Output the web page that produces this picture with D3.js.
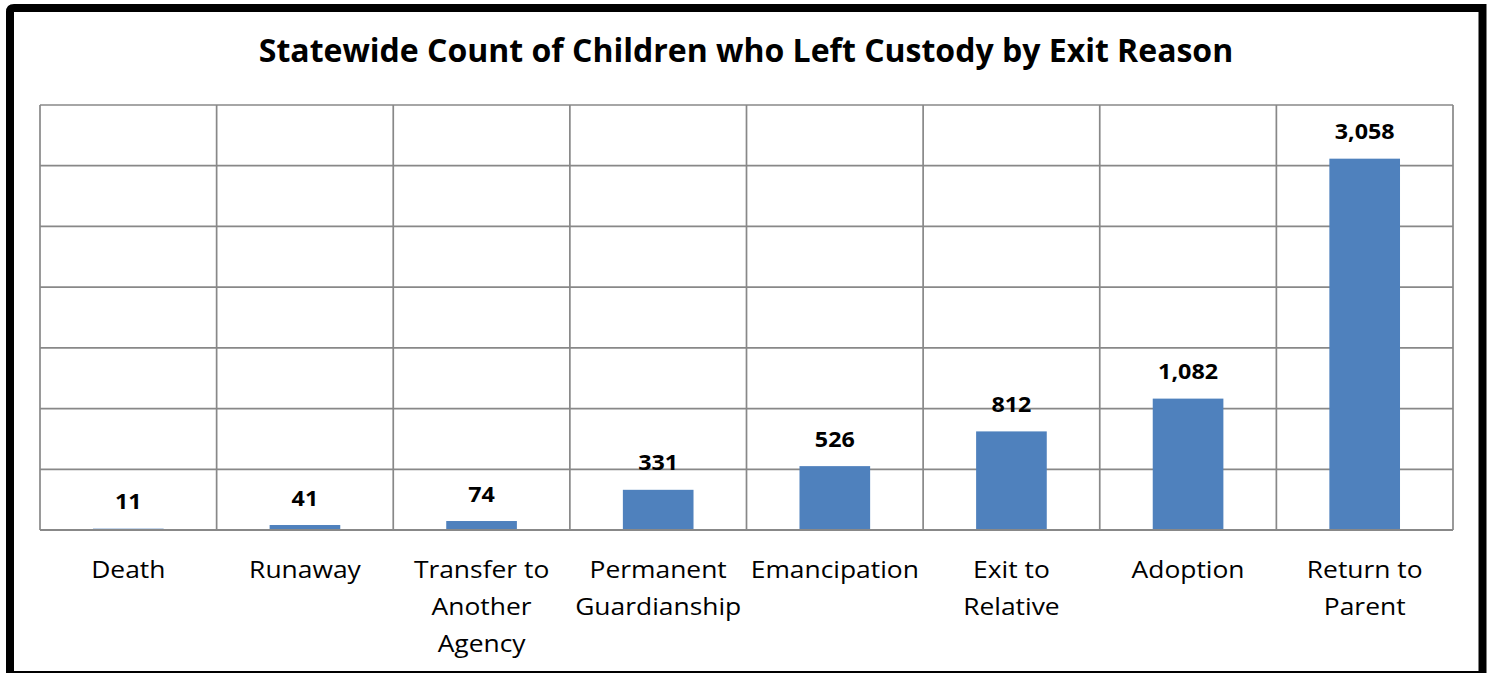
<!DOCTYPE html>
<html><head><meta charset="utf-8">
<script src="https://cdn.jsdelivr.net/npm/d3@7"></script>
<style>html,body{margin:0;padding:0;background:#fff;}svg{display:block;}</style>
</head><body>
<script>
const categories = ["Death","Runaway","Transfer to\nAnother\nAgency","Permanent\nGuardianship","Emancipation","Exit to\nRelative","Adoption","Return to\nParent"];
const values = [11,41,74,331,526,812,1082,3058];
const yTicks = [0,500,1000,1500,2000,2500,3000,3500];
const title = "Statewide Count of Children who Left Custody by Exit Reason";

const W = 1491, H = 673;
const svg = d3.select("body").append("svg").attr("width",W).attr("height",H);
const font = "'Open Sans', sans-serif";

// frame
const fr = svg.append("g");
fr.append("path").attr("d","M10,673 L10,12 Q10,8 14,8 L1482.5,8 L1482.5,673")
  .attr("fill","none").attr("stroke","#000").attr("stroke-width",8);
fr.append("line").attr("x1",10).attr("x2",1482).attr("y1",672).attr("y2",672).attr("stroke","#000").attr("stroke-width",2);

const L = 40, R = 1453, T = 105, B = 530;
const x = d3.scaleBand().domain(categories).range([L,R]).paddingInner(0.6).paddingOuter(0.3);
const y = d3.scaleLinear().domain([0,3500]).range([B,T]);

// gridlines
const gridColor = "#888888";
svg.append("g").selectAll("line.h").data(yTicks).join("line")
  .attr("x1",L).attr("x2",R).attr("y1",d=>y(d)).attr("y2",d=>y(d))
  .attr("stroke",gridColor).attr("stroke-width",1.7);
const step = (R-L)/categories.length;
const vlines = d3.range(categories.length+1).map(i=>L+i*step);
svg.append("g").selectAll("line.v").data(vlines).join("line")
  .attr("x1",d=>d).attr("x2",d=>d).attr("y1",T).attr("y2",B)
  .attr("stroke",gridColor).attr("stroke-width",1.7);

// bars
svg.append("g").selectAll("rect").data(values).join("rect")
  .attr("x",(d,i)=>x(categories[i]))
  .attr("width",x.bandwidth())
  .attr("y",d=>y(d)).attr("height",d=>B-y(d))
  .attr("fill","#4F81BD");

// baseline
svg.append("line").attr("x1",L).attr("x2",R).attr("y1",B).attr("y2",B).attr("stroke",gridColor).attr("stroke-width",2);

// data labels
svg.append("g").selectAll("text").data(values).join("text")
  .attr("transform",(d,i)=>`translate(${x(categories[i])+x.bandwidth()/2},${y(d)-19.5}) scale(1.06,1)`)
  .attr("text-anchor","middle")
  .attr("font-family",font).attr("font-weight","bold").attr("font-size",22)
  .attr("fill","#000")
  .text(d=>d3.format(",")(d));

// category labels
const cg = svg.append("g");
categories.forEach((c,i)=>{
  const t = cg.append("text").attr("text-anchor","middle")
    .attr("transform",`translate(${x(c)+x.bandwidth()/2},578) scale(1.1,1)`)
    .attr("font-family",font).attr("font-size",24).attr("fill","#000");
  c.split("\n").forEach((ln,j)=>{
    t.append("tspan").attr("x",0).attr("y",j*37).text(ln);
  });
});

// title
svg.append("text").attr("x",746).attr("y",62).attr("text-anchor","middle")
  .attr("font-family",font).attr("font-weight","bold").attr("font-size",32)
  .attr("fill","#000").text(title);
</script>
</body></html>
